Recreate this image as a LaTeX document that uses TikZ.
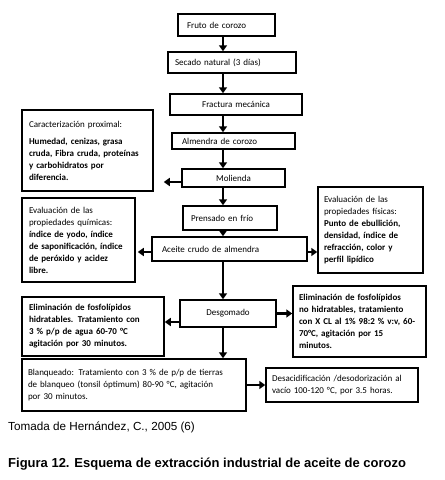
\documentclass[tikz,border=0pt]{standalone}
\usepackage{fontspec}
\setmainfont{Carlito}
\newfontfamily\arialf{Liberation Sans}
\usetikzlibrary{arrows.meta}
\begin{document}
\begin{tikzpicture}[x=1pt,y=-1pt,
  box/.style={draw, line width=1.5pt, inner sep=0pt, font=\fontsize{9}{12}\selectfont, align=left},
  flow/.style={line width=2.6pt, -{Triangle[length=6pt,width=8pt]}},
  capsrc/.style={anchor=base west, inner sep=0pt, font=\arialf\fontsize{11.7}{13}\selectfont},
  captitle/.style={anchor=base west, inner sep=0pt, font=\arialf\bfseries\fontsize{13}{15}\selectfont},
]
\useasboundingbox (0,0) rectangle (445,480);
\fill[white] (0,0) rectangle (445,480);

% main column
\node[box, minimum width=97pt, minimum height=22pt, text width=79pt] (fruto) at (226.5,25) {Fruto de corozo};
\node[box, minimum width=128pt, minimum height=21pt, text width=114pt] (secado) at (232,62.5) {Secado natural (3 días)};
\node[box, minimum width=132pt, minimum height=21pt, text width=118pt, align=center] (fractura) at (236,104.5) {Fractura mecánica};
\node[box, minimum width=123pt, minimum height=16pt, text width=103pt] (almendra) at (233.5,141) {Almendra de corozo};
\node[box, minimum width=103pt, minimum height=18pt, text width=89pt, align=center] (molienda) at (233.5,178) {Molienda};
\node[box, minimum width=94pt, minimum height=24pt, text width=78pt] (prensado) at (230,218) {Prensado en frío};
\node[box, minimum width=155pt, minimum height=24pt, text width=135pt] (aceite) at (229.5,249) {Aceite crudo de almendra};
\node[box, minimum width=96pt, minimum height=27pt, text width=82pt, align=center] (desgomado) at (228,313.5) {Desgomado};

% side boxes
\node[box, minimum width=131pt, minimum height=81pt, text width=117pt] (caract) at (87.5,150.5)
  {Caracterización proximal:\\[5pt]\bfseries Humedad, cenizas, grasa\\cruda, Fibra cruda, proteínas\\y carbohidratos por\\diferencia.};
\node[box, minimum width=113pt, minimum height=84pt, text width=99pt] (evalq) at (78.5,240)
  {Evaluación de las\\propiedades químicas:\\\bfseries índice de yodo, índice\\de saponificación, índice\\de peróxido y acidez\\libre.};
\node[box, minimum width=105pt, minimum height=86pt, text width=93pt] (evalf) at (370.5,230)
  {Evaluación de las\\propiedades físicas:\\\bfseries Punto de ebullición,\\densidad, índice de\\refracción, color y\\perfil lipídico};
\node[box, minimum width=142pt, minimum height=59pt, text width=128pt] (elimL) at (93,326.5)
  {\bfseries Eliminación de fosfolípidos\\hidratables. Tratamiento con\\3 \% p/p de agua 60-70 °C\\agitación por 30 minutos.};
\node[box, minimum width=133pt, minimum height=71pt, text width=121pt] (elimR) at (359.5,321.5)
  {\bfseries Eliminación de fosfolípidos\\no hidratables, tratamiento\\con X CL al 1\% 98:2 \% v:v, 60-\\70°C, agitación por 15\\minutos.};
\node[box, minimum width=224pt, minimum height=52pt, text width=212pt] (blanq) at (134,385)
  {Blanqueado: Tratamiento con 3 \% de p/p de tierras\\de blanqueo (tonsil óptimum) 80-90 °C, agitación\\por 30 minutos.};
\node[box, minimum width=152pt, minimum height=34pt, text width=140pt] (desac) at (342,385)
  {Desacidificación /desodorización al\\vacío 100-120 °C, por 3.5 horas.};

% connectors
\coordinate (col) at (223,0);
\draw[flow] (fruto.south -| col) -- (secado.north -| col);
\draw[flow] (secado.south -| col) -- (fractura.north -| col);
\draw[flow] (fractura.south -| col) -- (almendra.north -| col);
\draw[flow] (almendra.south -| col) -- (molienda.north -| col);
\draw[flow] (molienda.south -| col) -- (prensado.north -| col);
\draw[flow] (prensado.south -| col) -- (aceite.north -| col);
\draw[flow] (aceite.south -| col) -- (desgomado.north -| col);
\draw[flow] (desgomado.south -| col) -- (blanq.north -| col);

\coordinate (m1) at ([yshift=-4pt]molienda.west);
\draw[flow, shorten >=10pt] (m1) -- (m1 -| caract.east);
\coordinate (a1) at ([yshift=-3pt]aceite.west);
\draw[flow, shorten >=2pt] (a1) -- (a1 -| evalq.east);
\coordinate (a2) at ([yshift=-3pt]aceite.east);
\draw[flow] (a2) -- (a2 -| evalf.west);
\coordinate (d1) at ([yshift=-8.5pt]desgomado.west);
\draw[flow] (d1) -- (d1 -| elimL.east);
\draw[flow] (desgomado.east) -- (desgomado.east -| elimR.west);
\draw[flow] (blanq.east) -- (desac.west);

% captions
\node[capsrc] (src) at (8,430) {Tomada de Hernández, C., 2005 (6)};
\node[captitle] (title) at (8,467) {Figura 12. Esquema de extracción industrial de aceite de corozo};
\end{tikzpicture}
\end{document}
